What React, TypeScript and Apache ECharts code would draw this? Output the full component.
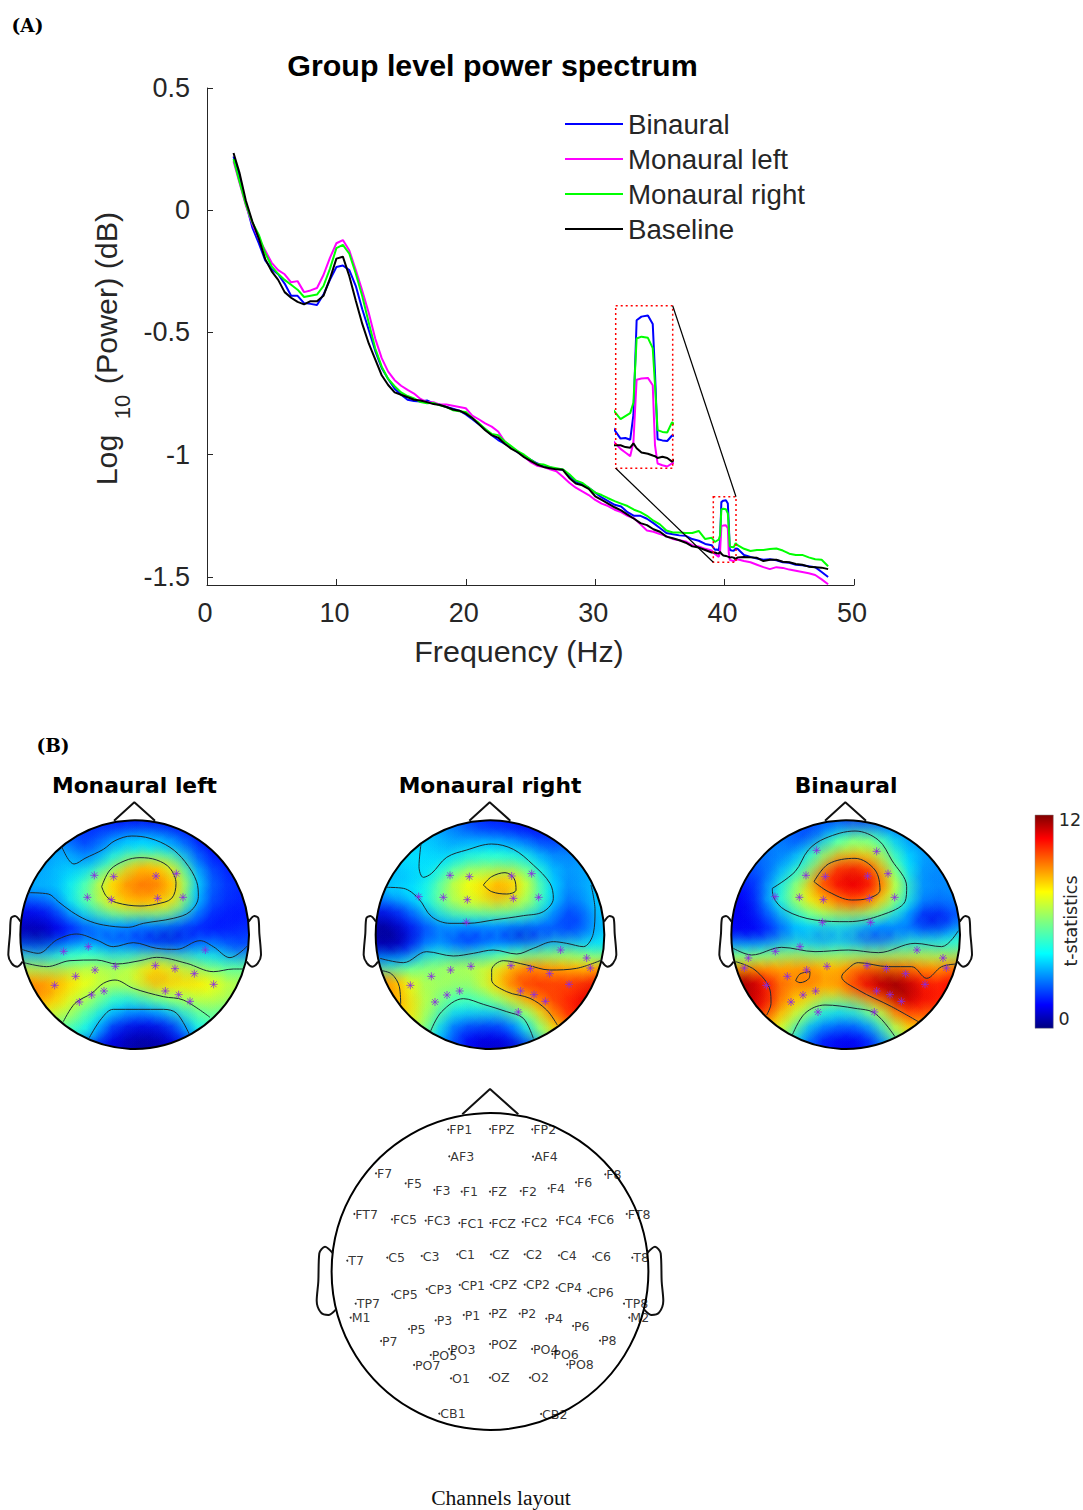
import React, { useEffect, useRef } from "react";
import * as echarts from "echarts";

const FREQ = [2.05,2.5,3,3.5,4,4.5,5,5.5,6,6.5,7,7.5,8,8.5,9,9.5,10,10.5,11,11.5,12,12.5,13,13.5,14,14.5,15,15.5,16,16.5,17,17.5,18,18.5,19,19.5,20,20.5,21,21.5,22,22.5,23,23.5,24,24.5,25,25.5,26,26.5,27,27.5,28,28.5,29,29.5,30,30.5,31,31.5,32,32.5,33,33.5,34,34.5,35,35.5,36,36.5,37,37.5,38,38.5,39,
  39.25,39.4,39.55,39.65,39.75,39.9,40.1,40.25,40.32,40.4,40.55,40.7,40.85,41,41.5,42,42.5,43,43.5,44,44.5,45,45.5,46,46.5,47,47.5,48];
const BINAURAL = [.22,.135,.03,-.07,-.135,-.205,-.24,-.262,-.3,-.35,-.35,-.38,-.383,-.388,-.345,-.285,-.232,-.226,-.245,-.31,-.405,-.49,-.575,-.645,-.69,-.73,-.755,-.775,-.78,-.782,-.778,-.79,-.795,-.805,-.812,-.82,-.835,-.855,-.875,-.895,-.92,-.94,-.955,-.97,-.99,-1.005,-1.02,-1.035,-1.048,-1.052,-1.058,-1.062,-1.085,-1.11,-1.12,-1.135,-1.155,-1.175,-1.19,-1.205,-1.212,-1.235,-1.25,-1.25,-1.262,-1.28,-1.3,-1.32,-1.325,-1.33,-1.332,-1.345,-1.352,-1.365,-1.37,
  -1.389,-1.388,-1.391,-1.35,-1.194,-1.188,-1.186,-1.2,-1.28,-1.39,-1.392,-1.393,-1.384,-1.385,-1.41,-1.418,-1.425,-1.43,-1.428,-1.432,-1.44,-1.442,-1.45,-1.452,-1.456,-1.46,-1.48,-1.5];
const MONAURAL_LEFT = [.2,.115,.02,-.055,-.115,-.165,-.215,-.245,-.262,-.295,-.29,-.335,-.328,-.318,-.265,-.195,-.135,-.122,-.165,-.245,-.33,-.42,-.525,-.605,-.66,-.695,-.718,-.735,-.75,-.772,-.785,-.785,-.795,-.795,-.8,-.805,-.81,-.84,-.855,-.872,-.885,-.905,-.945,-.97,-.985,-1.008,-1.03,-1.045,-1.05,-1.06,-1.068,-1.09,-1.115,-1.135,-1.15,-1.165,-1.185,-1.2,-1.21,-1.225,-1.235,-1.25,-1.26,-1.285,-1.31,-1.315,-1.325,-1.333,-1.345,-1.35,-1.355,-1.37,-1.375,-1.385,-1.392,
  -1.406,-1.412,-1.418,-1.395,-1.292,-1.29,-1.289,-1.301,-1.4,-1.43,-1.433,-1.435,-1.43,-1.428,-1.435,-1.44,-1.45,-1.46,-1.468,-1.46,-1.463,-1.47,-1.475,-1.48,-1.485,-1.492,-1.51,-1.53];
const MONAURAL_RIGHT = [.21,.12,.025,-.05,-.1,-.175,-.23,-.26,-.285,-.305,-.325,-.355,-.35,-.345,-.31,-.24,-.155,-.142,-.178,-.26,-.352,-.46,-.565,-.64,-.69,-.72,-.745,-.76,-.77,-.785,-.79,-.788,-.798,-.805,-.818,-.822,-.825,-.85,-.87,-.895,-.915,-.92,-.945,-.965,-.985,-1,-1.02,-1.038,-1.04,-1.05,-1.055,-1.06,-1.08,-1.105,-1.115,-1.135,-1.155,-1.165,-1.178,-1.19,-1.2,-1.21,-1.225,-1.235,-1.25,-1.27,-1.285,-1.31,-1.318,-1.318,-1.32,-1.32,-1.312,-1.345,-1.34,
  -1.357,-1.352,-1.347,-1.33,-1.224,-1.221,-1.223,-1.24,-1.3,-1.375,-1.378,-1.379,-1.362,-1.37,-1.385,-1.394,-1.39,-1.39,-1.386,-1.384,-1.392,-1.405,-1.41,-1.41,-1.42,-1.428,-1.43,-1.456];
const BASELINE = [.234,.155,.04,-.045,-.115,-.2,-.25,-.285,-.335,-.358,-.375,-.385,-.372,-.372,-.35,-.28,-.198,-.19,-.27,-.37,-.465,-.545,-.61,-.675,-.715,-.745,-.755,-.765,-.775,-.778,-.785,-.793,-.797,-.805,-.815,-.82,-.832,-.85,-.875,-.9,-.92,-.93,-.955,-.975,-.99,-1.01,-1.025,-1.04,-1.05,-1.055,-1.06,-1.062,-1.095,-1.118,-1.125,-1.14,-1.17,-1.185,-1.2,-1.215,-1.228,-1.245,-1.262,-1.28,-1.288,-1.305,-1.315,-1.335,-1.342,-1.35,-1.36,-1.375,-1.38,-1.39,-1.4,
  -1.4,-1.403,-1.404,-1.397,-1.405,-1.412,-1.414,-1.417,-1.418,-1.421,-1.419,-1.421,-1.427,-1.42,-1.418,-1.42,-1.422,-1.435,-1.43,-1.43,-1.438,-1.44,-1.447,-1.45,-1.458,-1.46,-1.462,-1.468];

const Y_TICKS = [-1.5, -1, -0.5, 0, 0.5];
const SERIES_DEFS: [string, number[], string][] = [
  ["Binaural", BINAURAL, "#0000ff"],
  ["Monaural left", MONAURAL_LEFT, "#ff00ff"],
  ["Monaural right", MONAURAL_RIGHT, "#00ff00"],
  ["Baseline", BASELINE, "#000000"],
];

// t-statistics read on a 17 x 17 raster of each scalp map
const MAP_LEFT = [
 [2,2,2,2,2,1.8,1.5,1.3,1.2,1.2,1.2,1.2,1.3,1.5,1.5,1.5,1.5],
 [2.5,2.5,2.5,2.4,1.8,2,2.4,3,3.2,3.2,2.8,2.2,1.6,1.2,1.3,1.3,1.3],
 [3,3,3,3.3,2.5,2.4,3.6,3.9,4.2,4.2,3.9,3.4,2.4,1.6,1.4,1.4,1.4],
 [3,3,3.3,3.5,3.3,3.7,4.8,6.4,8.2,8.2,7.6,5.6,3.2,2.1,1.7,1.5,1.5],
 [3.2,3.4,3.3,3.7,4.4,5.6,7.6,8.6,9,9.3,8.8,7.8,4.4,2.6,2,1.7,1.7],
 [3,3.2,3.2,3.9,5.2,6.4,8,8.8,9.3,9.2,8.8,8,4,2.5,2,1.8,1.8],
 [1.5,1.6,2,3.3,4.4,5.6,6.8,7.8,8,8,7.6,6.2,3.7,2.2,1.8,1.6,1.6],
 [.8,.8,1.1,1.8,2.7,3.2,3.7,3.8,3.6,3.7,3.5,3,2.2,1.6,1.5,1.6,1.6],
 [.6,.3,.7,1.3,1.9,2.2,2,1.9,1.6,1.2,.9,1.1,1.6,1.8,1.8,1.9,2],
 [2.9,2.6,3,3.9,4.4,4.2,3.4,3.6,3.4,3.2,3,3,3.3,3.6,3.1,2.2,2.5],
 [6,6,5.6,5.9,6,6.4,6,6,6.4,7.6,7.2,6.6,5.8,5.2,5,5,5.5],
 [8.6,8.6,8.6,8.4,7.7,7.4,7,7.2,7.6,8.9,8.6,8.2,8.2,7.6,6.9,6.4,6.4],
 [9.5,9.5,8.8,8,7.2,6.7,5.8,5.3,5.8,6.8,7.2,7.2,7.3,7.4,7,6.6,6.6],
 [8,8,8,7.2,6.4,5.6,4.4,3.8,3.6,3.8,4.4,5.3,6,6.2,6,5.8,5.8],
 [6.2,6.2,6.2,6.2,5.2,4.2,2.8,2,1.6,1.6,2,3,4.6,5.4,5.2,5.2,5.2],
 [4.6,4.6,4.6,4.6,4.6,3.4,1.5,.9,.6,.6,.8,1.6,3.5,4.4,4.4,4.4,4.4],
 [1,1,1,1,1,1,1,.6,.3,.3,.5,1,1,1,1,1,1],
];
const MAP_RIGHT = [
 [3,3,3,3,3,2.8,2.2,1.7,1.5,1.5,1.3,1.2,1.2,1.4,1.5,1.5,1.5],
 [3.5,3.5,3.5,3.5,3.5,3,2.8,2.7,2.6,2.4,2.1,1.8,1.6,2,2.2,2.2,2.2],
 [3.8,3.8,3.8,3.8,3.6,3.4,3.8,4,4.2,4,3.8,3.1,2.6,2.6,2.8,2.8,2.8],
 [3.6,3.6,3.8,3.9,3.8,4.4,5.2,5.6,5.6,5.6,5.3,4.4,3.4,3,3.1,3.2,3.2],
 [3.4,3.4,3.5,3.7,4.6,6.2,7.3,7.4,7.9,8.4,7.6,5.8,3.9,3,3,3.4,3.4],
 [3.4,3.8,3.9,4.2,5.4,6.6,7.4,7.8,8.9,8.8,7.4,6.2,4.2,2.9,2.9,3.5,3.5],
 [1.7,1.9,2.6,3.6,4.8,6,6.6,6.8,7,6.8,6.4,5.4,3.8,2.5,2.4,3.3,3.8],
 [.5,.8,1.6,2.3,3.1,3.6,3.9,3.9,3.7,3.8,3.6,3.3,2.6,2,1.8,2.9,3.6],
 [.2,.1,.7,1.8,2.4,2.3,1.6,1.5,2.1,1.4,.9,1.5,2.4,2.5,2.6,3.3,3.7],
 [1,.7,1.5,3,3.8,3.4,3,3.5,3.8,4.2,4.4,4.8,5,5.2,5,4.6,4.4],
 [4,4,4.4,5.6,6,6.3,6.4,6.6,6.7,7.6,8.4,8.6,8.4,8.2,8,7.8,8.2],
 [8.8,8.8,7.6,6.6,6.4,6.6,6.4,6.8,8,9.2,10,10,9.8,9.8,9.8,10,10.5],
 [9,9,8,6.8,6.4,6,5.6,6,7,8,9,9.8,10,10,10.3,11,11],
 [8.6,8.6,8.4,7,6.2,5,4.5,4.8,4.6,5.6,6.8,8,9.4,10.2,10.6,11.2,11],
 [7.8,7.8,7.8,6.8,5.2,3.4,2.8,2.7,2.6,2.8,4.2,6,8,9.5,10,10,10],
 [6.5,6.5,6.5,6.5,4.2,2.5,1.6,1.2,1.2,1.4,2.6,4.8,6.8,8,8,8,8],
 [3,3,3,3,3,3,1.5,.9,.7,.7,.9,1.6,3.5,3.5,3.5,3.5,3.5],
];
const MAP_BINAURAL = [
 [3,3,3,3,2.8,2.4,2.2,2,1.9,1.9,2,2.1,2.4,2.8,3,3,3],
 [3,3,3,3,2.2,1.9,2.6,4.2,5.2,5.4,5,3.7,3,2.9,3,3,3],
 [2.7,2.7,2.7,2.7,2.6,3.6,5.2,6.4,7,7.2,6.6,5.1,3.6,3.2,3,3,3],
 [2.4,2.4,2.4,2.8,3.6,4.8,6.6,9.4,9.9,9.9,8.6,6.2,4.2,3.2,2.9,2.9,2.9],
 [1.8,1.8,2.2,3.4,4.8,6.4,9.6,10.6,11,10.9,10.3,7.4,5,3,2.8,2.9,2.9],
 [1.4,1.4,2.4,4.4,6,7.8,8.9,9.8,10.6,10.6,9.6,7.8,5.4,3.2,2.8,2.9,2.9],
 [1.2,1.2,2.2,3.6,5.2,6.6,7.6,8.4,8.8,8.8,7.6,5.8,4.2,2.6,2.2,2.4,2.6],
 [1.2,1.2,1.6,2.4,3.4,4.2,5,5,5,4.8,4,3.4,2.8,1.5,1,1.5,2.6],
 [1.5,1.2,1.5,2.2,3,3.3,2.6,3.1,3,2.1,1.7,2.2,3.1,3.3,3.1,3.6,4.6],
 [4.6,4.4,4.6,5,5.4,5.2,5,5.2,5.2,5.2,5.2,5.4,5.6,5.7,5.6,5.5,5.5],
 [8,8.2,8.2,8.4,8.6,8.6,8.4,8.2,8.4,8.8,8.9,8.8,8.8,8.6,8.4,8.6,8.8],
 [11.6,11.4,10.6,9.6,9,9.6,9.2,8.8,9.8,10.8,11.4,11.6,11.2,10.4,9.8,10.4,10.6],
 [11.6,11.6,11,9.8,8.9,8.6,8.4,8.2,8.8,9.6,10.6,11.6,11.8,11,10.6,10.6,10.6],
 [11,11,10.8,9.4,8.2,7.4,5.6,4.8,5,5.8,7.4,9.4,10.6,10.4,10,10,10],
 [9,9,9.4,8,7,4.9,3.6,3.2,3,3.4,4.8,7,8.6,9,9,9,9],
 [8,8,8,7.4,5.2,3.2,2,1.6,1.4,1.6,2.6,5.2,7.2,8,8,8,8],
 [4,4,4,4,4,2.8,1.6,1.2,1,1.2,1.8,3.2,4,4,4,4,4],
];

const CONTOURS_LEFT = [
 [[185,230],[205,268],[222,282],[255,265],[310,238],[345,212],[395,198],[450,205],[510,232],[555,275],[590,335],[595,380],[570,425],[520,445],[430,460],[385,472],[310,465],[260,450],[215,425],[175,395],[145,372],[85,368]],
 [[305,350],[330,300],[375,272],[420,263],[470,270],[510,295],[528,340],[515,385],[470,402],[420,408],[350,398],[320,380],[305,350]],
 [[65,538],[115,550],[170,510],[230,492],[290,510],[340,530],[400,518],[470,535],[530,538],[600,512],[640,530],[690,563],[742,528]],
 [[72,578],[140,590],[210,572],[290,570],[350,582],[420,572],[470,562],[560,580],[640,605],[700,597],[730,597]],
 [[190,755],[225,700],[275,670],[310,640],[345,630],[400,655],[490,680],[550,690],[630,742]],
 [[268,803],[305,745],[340,718],[490,718],[530,730],[568,793]],
];
const CONTOURS_RIGHT = [
 [[183,222],[177,290],[190,322],[215,310],[260,262],[320,240],[395,222],[460,238],[520,285],[570,340],[580,385],[550,425],[490,437],[400,450],[325,460],[270,460],[215,440],[175,385],[130,355],[80,352]],
 [[370,345],[395,320],[435,308],[462,325],[468,360],[440,372],[395,365],[370,345]],
 [[693,345],[705,420],[700,490],[670,530],[620,520],[580,515],[520,535],[470,552],[400,540],[340,550],[280,558],[200,545],[130,578],[60,565]],
 [[725,570],[650,595],[570,600],[500,585],[430,572],[395,600],[395,630],[440,665],[510,685],[560,720],[592,765]],
 [[65,602],[95,612],[118,650],[122,702]],
 [[212,783],[245,725],[310,686],[370,703],[440,725],[490,745],[520,805]],
];
const CONTOURS_BINAURAL = [
 [[172,355],[240,305],[280,240],[330,205],[420,183],[490,210],[530,270],[575,350],[570,395],[500,435],[400,455],[300,450],[210,420],[175,380],[172,355]],
 [[297,335],[340,282],[420,265],[480,300],[495,360],[460,385],[410,390],[340,365],[297,335]],
 [[55,535],[110,555],[200,532],[300,545],[400,540],[490,548],[600,520],[680,530],[730,482]],
 [[62,575],[120,600],[165,660],[168,700],[155,735]],
 [[242,632],[255,612],[285,605],[282,625],[255,638],[242,632]],
 [[725,582],[680,590],[635,625],[590,590],[520,590],[430,578],[395,600],[380,620],[430,660],[530,710],[610,755]],
 [[232,795],[270,730],[330,705],[420,715],[480,730],[540,800]],
];

const STARS_LEFT = [[283,316],[341,320],[468,318],[529,311],[262,382],[334,389],[473,385],[549,382],[191,544],[265,530],[616,540],[227,619],[285,600],[346,589],[466,587],[525,596],[583,611],[641,643],[164,646],[312,663],[275,675],[238,696],[496,663],[536,674],[570,694]];
const STARS_RIGHT = [[270,316],[328,320],[455,318],[515,311],[250,382],[322,389],[460,385],[536,382],[176,380],[319,457],[602,540],[680,564],[691,594],[453,587],[511,596],[569,611],[627,643],[333,589],[272,600],[214,619],[151,646],[299,663],[261,675],[225,696],[482,663],[522,674],[556,694],[475,726]];
const STARS_BINAURAL = [[305,241],[485,244],[273,316],[331,320],[458,318],[519,311],[253,382],[325,389],[463,385],[539,382],[180,380],[322,457],[467,457],[255,530],[181,544],[100,564],[88,594],[606,540],[684,564],[694,594],[336,589],[275,600],[217,619],[154,646],[302,663],[264,675],[228,696],[309,726],[456,587],[514,596],[572,611],[630,643],[485,663],[525,674],[559,694],[478,726]];

const NOSE = [[-62,152],[-1,97],[61,152]];
const EAR = [[342,455],[359,438],[371,445],[374,490],[379,555],[369,580],[352,590],[336,575]];

const CHANNELS: [string, number, number][] = [
 ["FP1",448.3,1129.7],["FPZ",490,1129],["FP2",532.3,1129.3],["AF3",449.3,1156.3],["AF4",533,1156.7],
 ["F7",376,1173.3],["F5",405.7,1183.3],["F3",434.3,1190],["F1",461.7,1191.7],["FZ",490,1191.7],["F2",520.7,1191],["F4",548.7,1188.3],["F6",576,1182.3],["F8",605.3,1174.3],
 ["FT7",354.3,1214],["FC5",392,1219.3],["FC3",425.7,1220.7],["FC1",459.3,1223],["FCZ",490.3,1223],["FC2",522.7,1222],["FC4",557,1220],["FC6",589.3,1219],["FT8",626.7,1214],
 ["T7",347.3,1260.7],["C5",387.3,1257.7],["C3",421.7,1256],["C1",457.3,1254.3],["CZ",491,1254.3],["C2",524.7,1254.3],["C4",559,1255.3],["C6",593.3,1256.7],["T8",632.3,1257.7],
 ["CP5",392.3,1294.3],["CP3",426.7,1289],["CP1",459.7,1285],["CPZ",491,1284.7],["CP2",524.7,1284.7],["CP4",556.7,1287.7],["CP6",588.3,1292.7],["TP7",355.7,1303.7],["TP8",624,1303.7],["M1",350.7,1317.7],["M2",629.3,1317.7],
 ["P5",409,1329],["P3",435.7,1320.3],["P1",463.7,1315],["PZ",490,1313.7],["P2",519.7,1313.7],["P4",546.3,1318.7],["P6",573,1326],["P7",381,1341],["P8",600,1340.7],
 ["PO3",449,1349],["POZ",490,1344],["PO4",532,1349],["PO5",430.7,1355],["PO6",552.3,1354],["PO7",414,1365],["PO8",567.3,1364.3],["O1",451,1378.3],["OZ",490,1377.7],["O2",530,1377.7],["CB1",439.3,1413.7],["CB2",541,1414],
];
const LAYOUT_NOSE = [[462.3,1114.3],[490,1089],[518.3,1114.3]];
const LAYOUT_EAR_L = [[332.7,1253],[325,1246.7],[319.3,1253.3],[318.3,1281.7],[316.7,1300.7],[321,1312.7],[328.3,1315],[336,1309.3]];
const LAYOUT_EAR_R = [[647.3,1253],[655,1246.7],[660.7,1253.3],[661.7,1281.7],[663.3,1300.7],[659,1312.7],[651.7,1315],[644,1309.3]];

const JET: [number, number[]][] = [[0,[0,0,127]],[.11,[0,0,255]],[.35,[0,255,255]],[.5,[127,255,127]],[.64,[255,255,0]],[.89,[255,0,0]],[1,[127,0,0]]];
function jet(t: number) {
  t = Math.max(0, Math.min(1, t));
  for (let i = 1; i < JET.length; i++) {
    if (t <= JET[i][0]) {
      const [a, ca] = JET[i - 1], [b, cb] = JET[i];
      const k = (t - a) / (b - a);
      return ca.map((c, j) => Math.round(c + (cb[j] - c) * k));
    }
  }
  return JET[JET.length - 1][1];
}

const SANS = "Liberation Sans";
const DEJA = "DejaVu Sans";
const STAR = "path://M0 -5L0 5M-5 0L5 0M-3.6 -3.6L3.6 3.6M-3.6 3.6L3.6 -3.6";

function headSeries(gridIndex: number, cx: number, map: number[][], contours: number[][][], stars: number[][]) {
  const step = 343 / 8;
  const base: number[][] = [];
  map.forEach((row, r) => row.forEach((v, c) => {
    const dx = (c - 8) * step, dy = (r - 8) * step;
    if (Math.hypot(dx, dy) <= 343 * 1.25) base.push([cx + dx, 494 + dy, v]);
  }));
  // Thin translucent layers painted in opposite orders, so the cells average without a directional bias.
  const byColumn = [...base].sort((a, b) => a[0] - b[0] || a[1] - b[1]);
  const cells = [...base, ...[...base].reverse(), ...byColumn, ...[...byColumn].reverse()];
  const axis = { xAxisIndex: gridIndex, yAxisIndex: gridIndex };
  const plain = { type: "line", ...axis, showSymbol: false, silent: true, clip: false, animation: false };
  const list: any[] = [
    { type: "custom", ...axis, silent: true, clip: false, z: 1, data: cells, encode: { x: 0, y: 1 },
      renderItem: (_: any, api: any) => {
        const p = api.coord([api.value(0), api.value(1)]);
        const [r, g, b] = jet(api.value(2) / 12);
        const rad = api.size([step * 1.5, 0])[0];
        return { type: "circle", shape: { cx: p[0], cy: p[1], r: rad }, style: { fill: { type: "radial", x: .5, y: .5, r: .5, colorStops: [
          { offset: 0, color: `rgba(${r},${g},${b},.5)` }, { offset: .5, color: `rgba(${r},${g},${b},.25)` }, { offset: 1, color: `rgba(${r},${g},${b},0)` } ] } } };
      } },
    { type: "custom", ...axis, silent: true, clip: false, z: 2, data: [[cx, 494]], encode: { x: 0, y: 1 },
      renderItem: (_: any, api: any) => {
        const p = api.coord([api.value(0), api.value(1)]);
        const r = api.size([343, 0])[0];
        return { type: "group", children: [
          { type: "ring", shape: { cx: p[0], cy: p[1], r0: r, r: r * 1.52 }, style: { fill: "#fff" } },
          { type: "circle", z2: 5, shape: { cx: p[0], cy: p[1], r }, style: { fill: "none", stroke: "#000", lineWidth: 2 } },
        ] };
      } },
  ];
  contours.forEach((c) => list.push({ ...plain, z: 3, data: c, smooth: 0.35, lineStyle: { color: "#1a2a33", width: 1 } }));
  list.push({ ...plain, z: 4, data: NOSE.map(([x, y]) => [cx + x, y]), lineStyle: { color: "#111", width: 2 } });
  list.push({ ...plain, z: 4, data: EAR.map(([x, y]) => [cx - x, y]), smooth: 0.3, lineStyle: { color: "#111", width: 2 } });
  list.push({ ...plain, z: 4, data: EAR.map(([x, y]) => [cx + x, y]), smooth: 0.3, lineStyle: { color: "#111", width: 2 } });
  list.push({ type: "scatter", ...axis, silent: true, clip: false, z: 5, data: stars, symbol: STAR, symbolSize: 8,
    itemStyle: { color: "none", borderColor: "#8a2be2", borderWidth: 1 } });
  return list;
}

function hiddenAxes(i: number, xr: number[], yr: number[], inverse: boolean) {
  return {
    x: { gridIndex: i, type: "value", min: xr[0], max: xr[1], show: false },
    y: { gridIndex: i, type: "value", min: yr[0], max: yr[1], show: false, inverse },
  };
}

function buildOption() {
  const axisStyle = { lineStyle: { color: "#262626", width: 1 } };
  const labelStyle = { color: "#262626", fontFamily: SANS, fontSize: 27 };
  const grids: any[] = [
    { left: 207, top: 88, width: 647, height: 497 },
    { left: 615.7, top: 305.7, width: 57, height: 162.6 },
    { left: 0, top: 770, width: 270, height: 290 },
    { left: 360, top: 770, width: 260, height: 290 },
    { left: 715, top: 770, width: 368, height: 290 },
    { left: 280, top: 1080, width: 420, height: 360 },
  ];
  const hs = [
    hiddenAxes(1, [39.1, 40.87], [-1.438, -1.17], false),
    hiddenAxes(2, [0, 810], [0, 870], true),
    hiddenAxes(3, [0, 780], [0, 870], true),
    hiddenAxes(4, [0, 1104], [0, 870], true),
    hiddenAxes(5, [280, 700], [1080, 1440], true),
  ];
  const xAxis = [
    { gridIndex: 0, type: "value", min: 0, max: 50, interval: 10, splitLine: { show: false },
      axisLine: { onZero: false, ...axisStyle }, axisTick: { inside: true, length: 6, ...axisStyle },
      axisLabel: { ...labelStyle, margin: 14, padding: [0, 4, 0, 0] } },
    ...hs.map((a) => a.x),
  ];
  const yAxis = [
    { gridIndex: 0, type: "value", min: -1.533, max: 0.5, splitLine: { show: false },
      axisLine: { show: true, onZero: false, ...axisStyle },
      axisTick: { show: true, inside: true, length: 6, customValues: Y_TICKS, ...axisStyle },
      axisLabel: { ...labelStyle, margin: 17, customValues: Y_TICKS, formatter: (v: number) => String(v) } },
    ...hs.map((a) => a.y),
  ];
  const series: any[] = [];
  SERIES_DEFS.forEach(([name, vals, color]) => {
    series.push({ name, type: "line", xAxisIndex: 0, yAxisIndex: 0, showSymbol: false, z: 3,
      data: vals.map((v, i) => [FREQ[i], v]), lineStyle: { color, width: 2 }, itemStyle: { color } });
  });
  SERIES_DEFS.forEach(([name, vals, color]) => {
    series.push({ name: name + " zoom", type: "line", xAxisIndex: 1, yAxisIndex: 1, showSymbol: false, z: 3, clip: true,
      data: vals.map((v, i) => [FREQ[i], v]), lineStyle: { color, width: 2 } });
  });
  series.push(...headSeries(2, 404, MAP_LEFT, CONTOURS_LEFT, STARS_LEFT));
  series.push(...headSeries(3, 390, MAP_RIGHT, CONTOURS_RIGHT, STARS_RIGHT));
  series.push(...headSeries(4, 392, MAP_BINAURAL, CONTOURS_BINAURAL, STARS_BINAURAL));

  const layoutAxis = { xAxisIndex: 5, yAxisIndex: 5, showSymbol: false, silent: true, clip: false, z: 6, type: "line" };
  series.push({ type: "custom", xAxisIndex: 5, yAxisIndex: 5, silent: true, clip: false, z: 6, data: [[490, 1271.5]], encode: { x: 0, y: 1 },
    renderItem: (_: any, api: any) => {
      const p = api.coord([api.value(0), api.value(1)]);
      return { type: "group", children: [
        { type: "circle", shape: { cx: p[0], cy: p[1], r: api.size([160, 0])[0] }, style: { fill: "#fff", stroke: "none" } },
        { type: "circle", shape: { cx: p[0], cy: p[1], r: api.size([158.4, 0])[0] }, style: { fill: "none", stroke: "#000", lineWidth: 2 } },
      ] };
    } });
  [LAYOUT_NOSE, LAYOUT_EAR_L, LAYOUT_EAR_R].forEach((d, i) =>
    series.push({ ...layoutAxis, data: d, smooth: i ? 0.3 : 0, lineStyle: { color: "#111", width: 2 } }));
  series.push({ type: "scatter", xAxisIndex: 5, yAxisIndex: 5, silent: true, clip: false, z: 7,
    data: CHANNELS.map(([name, x, y]) => ({ name, value: [x, y] })), symbol: "circle", symbolSize: 2,
    itemStyle: { color: "#000" },
    labelLayout: { hideOverlap: false },
    label: { show: true, position: "right", distance: 0, formatter: "{b}", fontFamily: DEJA, fontSize: 12.6, color: "#000" } });

  const text = (t: string, x: number, y: number, s: any, extra: any = {}) => ({
    type: "text", x, y, z: 20, silent: true, ...extra,
    style: { text: t, align: "center", verticalAlign: "middle", fill: "#000", ...s },
  });
  const jetStops = JET.map(([o, c]) => ({ offset: o, color: `rgb(${c.join(",")})` }));
  const graphic = [
    text("(A)", 27.5, 25.5, { font: "bold 18.5px 'DejaVu Serif'" }),
    text("(B)", 53, 745, { font: "bold 18.5px 'DejaVu Serif'" }),
    text("Group level power spectrum", 492.5, 64.5, { font: `bold 30.4px '${SANS}'` }),
    text("Frequency (Hz)", 519, 651, { font: `30.4px '${SANS}'`, fill: "#262626" }),
    text("Log", 106, 460, { font: `30.4px '${SANS}'`, fill: "#262626" }, { rotation: Math.PI / 2 }),
    text("10", 122, 407, { font: `22px '${SANS}'`, fill: "#262626" }, { rotation: Math.PI / 2 }),
    text("(Power) (dB)", 106, 298, { font: `30.4px '${SANS}'`, fill: "#262626" }, { rotation: Math.PI / 2 }),
    { type: "rect", z: 10, silent: true, shape: { x: 615.7, y: 305.7, width: 57, height: 162.6 },
      style: { fill: "none", stroke: "#f00", lineWidth: 1.5, lineDash: [2, 3] } },
    { type: "rect", z: 10, silent: true, shape: { x: 713.3, y: 496.7, width: 22.7, height: 65.6 },
      style: { fill: "none", stroke: "#f00", lineWidth: 1.5, lineDash: [2, 3] } },
    { type: "line", z: 10, silent: true, shape: { x1: 615.7, y1: 468.3, x2: 713.3, y2: 562.3 }, style: { stroke: "#000", lineWidth: 1.2 } },
    { type: "line", z: 10, silent: true, shape: { x1: 672.7, y1: 305.7, x2: 736, y2: 496.7 }, style: { stroke: "#000", lineWidth: 1.2 } },
    text("Monaural left", 134.5, 785, { font: `bold 21.8px '${DEJA}'` }),
    text("Monaural right", 490, 785, { font: `bold 21.8px '${DEJA}'` }),
    text("Binaural", 846, 785, { font: `bold 21.8px '${DEJA}'` }),
    { type: "rect", z: 10, silent: true, shape: { x: 1035, y: 815, width: 18.3, height: 213.3 },
      style: { stroke: "#888", lineWidth: .5, fill: { type: "linear", x: 0, y: 1, x2: 0, y2: 0, colorStops: jetStops } } },
    text("12", 1070, 820, { font: `17.5px '${DEJA}'`, fill: "#262626" }),
    text("0", 1064, 1019, { font: `17.5px '${DEJA}'`, fill: "#262626" }),
    text("t-statistics", 1071, 921, { font: `17.5px '${DEJA}'`, fill: "#262626" }, { rotation: Math.PI / 2 }),
    text("Channels layout", 501, 1498, { font: "21.6px 'Liberation Serif'", fill: "#111" }),
  ];
  return {
    animation: false,
    backgroundColor: "#fff",
    grid: grids,
    xAxis,
    yAxis,
    legend: { show: true, orient: "vertical", left: 565, top: 109, itemWidth: 58, itemHeight: 30, itemGap: 5, padding: 0,
      data: SERIES_DEFS.map((d) => ({ name: d[0], icon: "path://M0 14.1H58V15.9H0Z" })),
      textStyle: { color: "#262626", fontFamily: SANS, fontSize: 27.7, lineHeight: 30 }, selectedMode: false },
    graphic,
    series,
  };
}

export default function App() {
  const ref = useRef<HTMLDivElement>(null);
  useEffect(() => {
    const chart = echarts.init(ref.current!, undefined, { renderer: "svg" });
    chart.setOption(buildOption() as any);
    return () => chart.dispose();
  }, []);
  return <div ref={ref} style={{ position: "absolute", left: 0, top: 0, width: 1083, height: 1510 }} />;
}
